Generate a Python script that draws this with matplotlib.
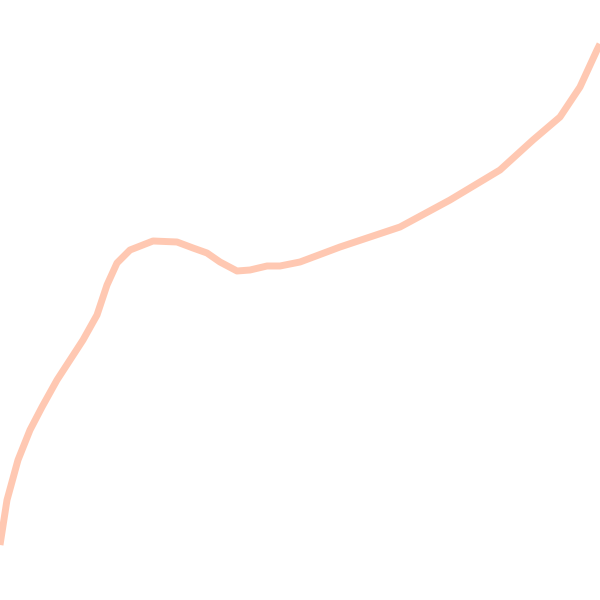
import matplotlib
matplotlib.use("Agg")
import matplotlib.pyplot as plt

x_vals = [0, 7, 18, 30, 42, 57, 70, 83, 97, 107, 117, 130, 153, 177, 193, 207,
          220, 237, 250, 267, 280, 300, 340, 400, 450, 500, 533, 560, 580, 597, 600]
y_vals = [545, 500, 460, 430, 407, 380, 360, 340, 315, 285, 263, 250, 241, 242, 248, 253,
          262, 271, 270, 266, 266, 262, 247, 227, 200, 170, 140, 117, 87, 50, 44]
y_vals = [600 - v for v in y_vals]

fig = plt.figure(figsize=(6, 6), dpi=100)
ax = fig.add_axes([0, 0, 1, 1])
ax.plot(x_vals, y_vals, color="#FFA47F", alpha=0.6, linewidth=5, solid_capstyle="butt")
ax.set_xlim(0, 600)
ax.set_ylim(0, 600)
ax.axis("off")
fig.savefig("out.png", dpi=100, facecolor="white")
